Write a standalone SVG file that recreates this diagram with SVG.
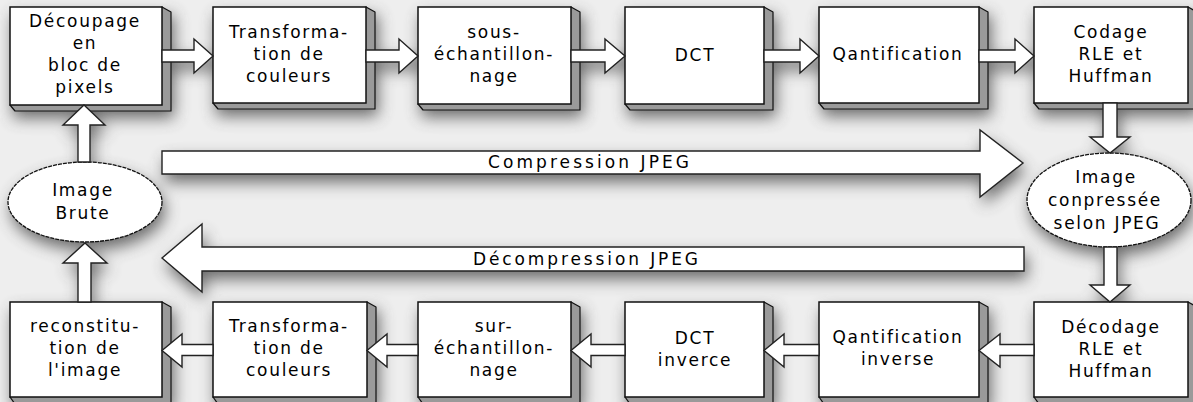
<svg xmlns="http://www.w3.org/2000/svg" width="1193" height="402" viewBox="0 0 1193 402">
<defs>
<filter id="blur" x="-20%" y="-40%" width="140%" height="180%">
<feGaussianBlur stdDeviation="8"/>
</filter>
</defs>
<style>
.front{fill:#fff;stroke:#111;stroke-width:1.5}
.side{fill:#9a9a9a;stroke:#111;stroke-width:1.2;stroke-linejoin:round}
.ell{fill:#fff;stroke:#111;stroke-width:1.3;stroke-dasharray:4 1}
.arr{fill:#fff;stroke:#222;stroke-width:1.4;stroke-linejoin:miter}
.t{font-family:"DejaVu Sans","Liberation Sans",sans-serif;font-size:17px;letter-spacing:1.7px;fill:#000;text-anchor:middle}
.big{font-family:"DejaVu Sans","Liberation Sans",sans-serif;font-size:17px;fill:#000;text-anchor:middle}
.sh{fill:#4a4a4a}
</style>
<rect x="0" y="0" width="1193" height="402" fill="#eeeeee"/>
<!-- soft shadows -->
<g filter="url(#blur)" transform="translate(3,8)" opacity="0.8">
<rect class="sh" x="10" y="7" width="161" height="103"/>
<rect class="sh" x="213" y="7" width="162" height="101"/>
<rect class="sh" x="418" y="7" width="162" height="102"/>
<rect class="sh" x="625" y="7" width="148" height="102"/>
<rect class="sh" x="819" y="7" width="169" height="101"/>
<rect class="sh" x="1034" y="7" width="163" height="101"/>
<rect class="sh" x="10" y="302" width="161" height="101"/>
<rect class="sh" x="213" y="302" width="163" height="101"/>
<rect class="sh" x="418" y="302" width="162" height="101"/>
<rect class="sh" x="625" y="302" width="148" height="101"/>
<rect class="sh" x="819" y="302" width="169" height="101"/>
<rect class="sh" x="1034" y="302" width="163" height="101"/>
<ellipse class="sh" cx="85" cy="202" rx="77" ry="40"/>
<ellipse class="sh" cx="1109" cy="200" rx="82" ry="47"/>
<path class="sh" d="M162,151 H980 V130 L1023,163 L980,197 V174 H162 Z"/>
<path class="sh" d="M162,258 L202,224 V247 H1024 V271 H202 V292 Z"/>
<path class="sh" d="M84,105 L105,125 H90 V162 H78 V125 H63 Z"/>
<path class="sh" d="M85,243 L107,263 H91 V302 H78 V263 H63 Z"/>
<path class="sh" d="M1103,103 H1117 V137 H1130 L1110,153 L1090,137 H1103 Z"/>
<path class="sh" d="M1104,247 H1117 V285 H1130 L1110,302 L1090,285 H1104 Z"/>
<path class="sh" d="M162,50 H213 V62 H162 Z M366,50 H418 V62 H366 Z M571,50 H625 V62 H571 Z M764,50 H819 V62 H764 Z M979,50 H1034 V62 H979 Z"/>
</g>

<!-- top row nodes -->
<g id="decoupage">
<path class="side" d="M162,7 L171,12 V111 H15 L10,105 Z"/>
<rect class="front" x="10" y="7" width="152" height="98"/>
<text class="t" x="85" y="27">Découpage</text>
<text class="t" x="85" y="49">en</text>
<text class="t" x="85" y="71">bloc de</text>
<text class="t" x="85" y="93">pixels</text>
</g>
<g id="transfo1">
<path class="side" d="M366,7 L375,12 V109 H218 L213,103 Z"/>
<rect class="front" x="213" y="7" width="153" height="96"/>
<text class="t" x="289" y="38">Transforma-</text>
<text class="t" x="289" y="60">tion de</text>
<text class="t" x="289" y="82">couleurs</text>
</g>
<g id="sous-ech">
<path class="side" d="M571,7 L580,12 V110 H423 L418,104 Z"/>
<rect class="front" x="418" y="7" width="153" height="97"/>
<text class="t" x="494" y="38">sous-</text>
<text class="t" x="494" y="60">échantillon-</text>
<text class="t" x="494" y="82">nage</text>
</g>
<g id="dct">
<path class="side" d="M764,7 L773,12 V110 H630 L625,104 Z"/>
<rect class="front" x="625" y="7" width="139" height="97"/>
<text class="t" x="695" y="61">DCT</text>
</g>
<g id="quantif">
<path class="side" d="M979,7 L988,12 V109 H824 L819,103 Z"/>
<rect class="front" x="819" y="7" width="160" height="96"/>
<text class="t" x="898" y="60">Qantification</text>
</g>
<g id="codage">
<path class="side" d="M1188,7 L1197,12 V109 H1039 L1034,103 Z"/>
<rect class="front" x="1034" y="7" width="154" height="96"/>
<text class="t" x="1111" y="38">Codage</text>
<text class="t" x="1111" y="60">RLE et</text>
<text class="t" x="1111" y="82">Huffman</text>
</g>

<!-- ellipses -->
<g id="image-brute">
<ellipse class="ell" cx="85" cy="202" rx="77" ry="40"/>
<text class="t" x="83" y="196">Image</text>
<text class="t" x="83" y="219">Brute</text>
</g>
<g id="image-compressee">
<ellipse class="ell" cx="1109" cy="200" rx="82" ry="47"/>
<text class="t" x="1106" y="183">Image</text>
<text class="t" x="1105" y="206">conpressée</text>
<text class="t" x="1107" y="229">selon JPEG</text>
</g>

<!-- bottom row nodes -->
<g id="reconstitution">
<path class="side" d="M162,302 L171,307 V404 H15 L10,397 Z"/>
<rect class="front" x="10" y="302" width="152" height="95"/>
<text class="t" x="85" y="332">reconstitu-</text>
<text class="t" x="85" y="354">tion de</text>
<text class="t" x="85" y="376">l'image</text>
</g>
<g id="transfo2">
<path class="side" d="M367,302 L376,307 V404 H218 L213,397 Z"/>
<rect class="front" x="213" y="302" width="154" height="95"/>
<text class="t" x="289" y="332">Transforma-</text>
<text class="t" x="289" y="354">tion de</text>
<text class="t" x="289" y="376">couleurs</text>
</g>
<g id="sur-ech">
<path class="side" d="M571,302 L580,307 V404 H423 L418,397 Z"/>
<rect class="front" x="418" y="302" width="153" height="95"/>
<text class="t" x="494" y="332">sur-</text>
<text class="t" x="494" y="354">échantillon-</text>
<text class="t" x="494" y="376">nage</text>
</g>
<g id="dct-inv">
<path class="side" d="M764,302 L773,307 V404 H630 L625,397 Z"/>
<rect class="front" x="625" y="302" width="139" height="95"/>
<text class="t" x="695" y="344">DCT</text>
<text class="t" x="695" y="366">inverce</text>
</g>
<g id="quantif-inv">
<path class="side" d="M979,302 L988,307 V404 H824 L819,397 Z"/>
<rect class="front" x="819" y="302" width="160" height="95"/>
<text class="t" x="898" y="343">Qantification</text>
<text class="t" x="898" y="365">inverse</text>
</g>
<g id="decodage">
<path class="side" d="M1188,302 L1197,307 V404 H1039 L1034,397 Z"/>
<rect class="front" x="1034" y="302" width="154" height="95"/>
<text class="t" x="1111" y="333">Décodage</text>
<text class="t" x="1111" y="355">RLE et</text>
<text class="t" x="1111" y="377">Huffman</text>
</g>

<!-- connectors -->
<g id="connectors">
<path class="arr" d="M162,50 H194 V39 L213,56 L194,73 V62 H162 Z"/>
<path class="arr" d="M366,50 H399 V39 L418,56 L399,73 V62 H366 Z"/>
<path class="arr" d="M571,50 H605 V39 L625,56 L605,73 V62 H571 Z"/>
<path class="arr" d="M764,50 H800 V39 L819,56 L800,73 V62 H764 Z"/>
<path class="arr" d="M979,50 H1015 V39 L1034,56 L1015,73 V62 H979 Z"/>

<path class="arr" d="M162,350.5 L182,334 V344.5 H213 V355.5 H182 V367 Z"/>
<path class="arr" d="M367,350.5 L387,334 V344.5 H418 V355.5 H387 V367 Z"/>
<path class="arr" d="M571,350.5 L591,334 V344.5 H625 V355.5 H591 V367 Z"/>
<path class="arr" d="M764,350.5 L784,334 V344.5 H819 V355.5 H784 V367 Z"/>
<path class="arr" d="M979,350.5 L1000,334 V344.5 H1034 V355.5 H1000 V367 Z"/>

<path class="arr" d="M84,105 L105,125 H90 V162 H78 V125 H63 Z"/>
<path class="arr" d="M85,243 L107,263 H91 V302 H78 V263 H63 Z"/>
<path class="arr" d="M1103,103 H1117 V137 H1130 L1110,153 L1090,137 H1103 Z"/>
<path class="arr" d="M1104,247 H1117 V285 H1130 L1110,302 L1090,285 H1104 Z"/>

<path class="arr" d="M162,151 H980 V130 L1023,163 L980,197 V174 H162 Z"/>
<text class="big" x="588.5" y="168" textLength="201" lengthAdjust="spacing">Compression JPEG</text>
<path class="arr" d="M162,258 L202,224 V247 H1024 V271 H202 V292 Z"/>
<text class="big" x="585.5" y="265" textLength="225" lengthAdjust="spacing">Décompression JPEG</text>
</g>
</svg>
